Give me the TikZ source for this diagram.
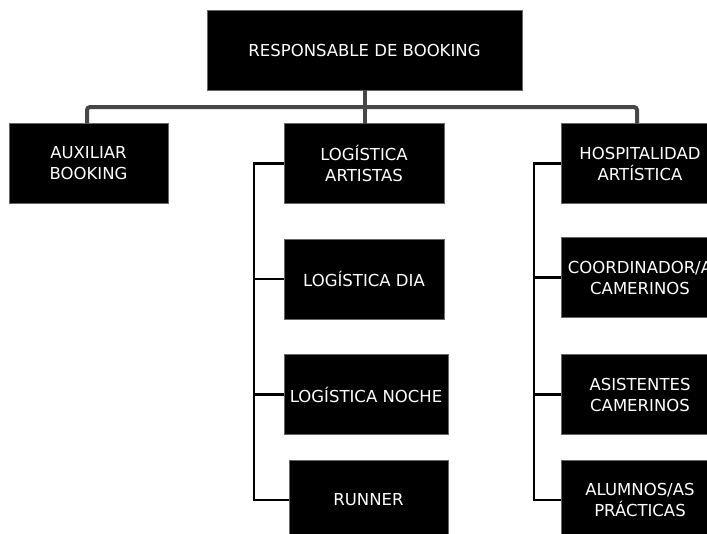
\documentclass[tikz,border=0pt]{standalone}
\usepackage{fontspec}
\setmainfont{DejaVu Sans}
\begin{document}
\begin{tikzpicture}[x=1pt,y=-1pt,
  orgbox/.style={fill=black, draw=black!60, line width=0.8pt, inner sep=0pt, outer sep=0pt,
    text=white, align=center, font=\fontsize{16.5}{21}\selectfont,
    minimum width=159pt, minimum height=80pt},
  grayline/.style={draw=black!72, line width=4pt, rounded corners=3pt},
  blkline/.style={draw=black, line width=2.6pt}]
\useasboundingbox (0,0) rectangle (707,533);
\clip (0,0) rectangle (707,533);
% boxes
\node[orgbox, minimum width=315pt] (resp) at (364.5,50) {RESPONSABLE DE BOOKING};
\node[orgbox] (aux) at (88.5,163) {AUXILIAR\\BOOKING};
\node[orgbox, minimum width=160pt] (la) at (364,163.5) {LOGÍSTICA\\ARTISTAS};
\node[orgbox, minimum width=160pt] (ld) at (364,279) {LOGÍSTICA DIA};
\node[orgbox, minimum width=164pt] (ln) at (366,394.5) {LOGÍSTICA NOCHE};
\node[orgbox] (run) at (368.5,500) {RUNNER};
\node[orgbox, minimum width=158pt] (hosp) at (640,163.5) {HOSPITALIDAD\\ ARTÍSTICA};
\node[orgbox, minimum width=158pt] (coord) at (640,277.5) {COORDINADOR/A\\CAMERINOS};
\node[orgbox, minimum width=158pt] (asis) at (640,394.5) {ASISTENTES\\CAMERINOS};
\node[orgbox, minimum width=158pt] (alum) at (640,500) {ALUMNOS/AS\\PRÁCTICAS};
% top connectors
\coordinate (bl) at (87,107);
\coordinate (br) at (637,107);
\draw[grayline] (aux.north -| bl) -- (bl) -- (br) -- (hosp.north -| br);
\draw[grayline] (resp.south) -- (resp.south |- la.north);
% left bracket
\coordinate (lx) at (254,0);
\draw[blkline] (la.west) -- (la.west -| lx) -- (run.west -| lx) -- (run.west);
\draw[blkline] (ld.west -| lx) -- (ld.west);
\draw[blkline] (ln.west -| lx) -- (ln.west);
% right bracket
\coordinate (rx) at (534,0);
\draw[blkline] (hosp.west) -- (hosp.west -| rx) -- (alum.west -| rx) -- (alum.west);
\draw[blkline] (coord.west -| rx) -- (coord.west);
\draw[blkline] (asis.west -| rx) -- (asis.west);
\end{tikzpicture}
\end{document}
